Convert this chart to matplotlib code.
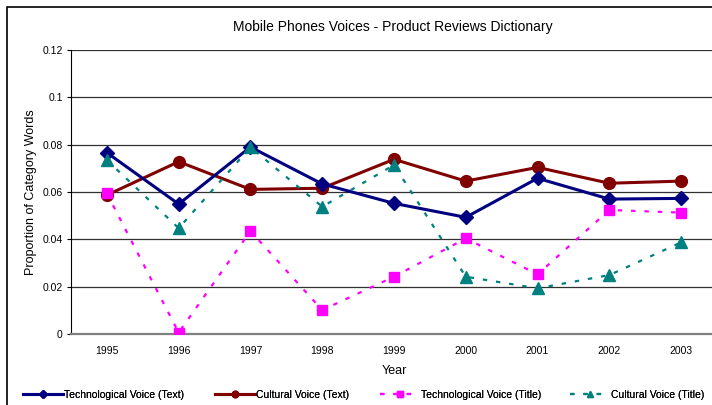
import matplotlib
matplotlib.use("Agg")
import matplotlib.pyplot as plt
from matplotlib.patches import Rectangle

plt.rcParams["font.family"] = ["Liberation Sans", "DejaVu Sans"]

years = ["1995", "1996", "1997", "1998", "1999", "2000", "2001", "2002", "2003"]
tech_text = [0.0766, 0.0549, 0.0790, 0.0634, 0.0552, 0.0493, 0.0658, 0.0570, 0.0573]
cult_text = [0.0587, 0.0728, 0.0611, 0.0616, 0.0738, 0.0646, 0.0704, 0.0637, 0.0646]
tech_title = [0.0594, 0.0006, 0.0435, 0.0101, 0.0242, 0.0404, 0.0252, 0.0524, 0.0513]
cult_title = [0.0735, 0.0447, 0.0789, 0.0538, 0.0714, 0.0242, 0.0193, 0.0249, 0.0387]
yticks = [0, 0.02, 0.04, 0.06, 0.08, 0.1, 0.12]
ylabels = ["0", "0.02", "0.04", "0.06", "0.08", "0.1", "0.12"]

W, H = 712, 405
fig = plt.figure(figsize=(W / 100, H / 100), dpi=100)

# outer chart frame (cut off on the right and bottom)
fig.patches.append(Rectangle((7 / W, -0.05), 1.1, 1 - 7 / H + 0.05,
                             transform=fig.transFigure, fill=False,
                             edgecolor="black", linewidth=1.2))

ax = fig.add_axes([71 / W, 1 - 334 / H, 646 / W, 284 / H])
x = list(range(len(years)))

lines = []
lines += ax.plot(x, tech_text, color="#000080", lw=2.2, marker="D", ms=7,
                 label="Technological Voice (Text)", zorder=4)
lines += ax.plot(x, cult_text, color="#800000", lw=2.2, marker="o", ms=8.5,
                 label="Cultural Voice (Text)", zorder=3)
lines += ax.plot(x, tech_title, color="#ff00ff", lw=1.6, ls=(0, (2, 4)), marker="s", ms=7.5,
                 label="Technological Voice (Title)", zorder=5)
lines += ax.plot(x, cult_title, color="#008080", lw=1.6, ls=(0, (2, 4)), marker="^", ms=8,
                 label="Cultural Voice (Title)", zorder=6)

ax.set_xlim(-0.5, len(years) - 0.5)
ax.set_ylim(0, 0.12)
ax.set_xticks(x)
ax.set_xticklabels(years, fontsize=7.5)
ax.set_yticks(yticks)
ax.set_yticklabels(ylabels, fontsize=7.5)
ax.tick_params(axis="x", length=0, pad=9)
ax.tick_params(axis="y", length=3, width=0.8, pad=3, direction="out")
ax.grid(axis="y", color="#303030", lw=0.9)
ax.set_axisbelow(True)
for s in ["top", "right"]:
    ax.spines[s].set_visible(False)
ax.spines["bottom"].set_color("#808080")
ax.spines["bottom"].set_linewidth(1.6)
ax.spines["left"].set_color("black")

ax.set_xlabel("Year", fontsize=9, labelpad=6)
ax.set_ylabel("Proportion of Category Words", fontsize=9, labelpad=4)
fig.text(393 / W, 1 - 27 / H, "Mobile Phones Voices - Product Reviews Dictionary",
         ha="center", va="center", fontsize=10)

# legend entries placed one by one, like the original strip under the axis
leg_x = [23, 215, 380, 570]
for ln, lx in zip(lines, leg_x):
    lg = fig.legend([ln], [ln.get_label()], loc="center left",
                    bbox_to_anchor=(lx / W, 1 - 395 / H), frameon=False,
                    fontsize=7.5, handlelength=3.8, handletextpad=0.15,
                    borderaxespad=0, borderpad=0, markerscale=0.55)
    fig.add_artist(lg)

fig.savefig("out.png", dpi=100)
